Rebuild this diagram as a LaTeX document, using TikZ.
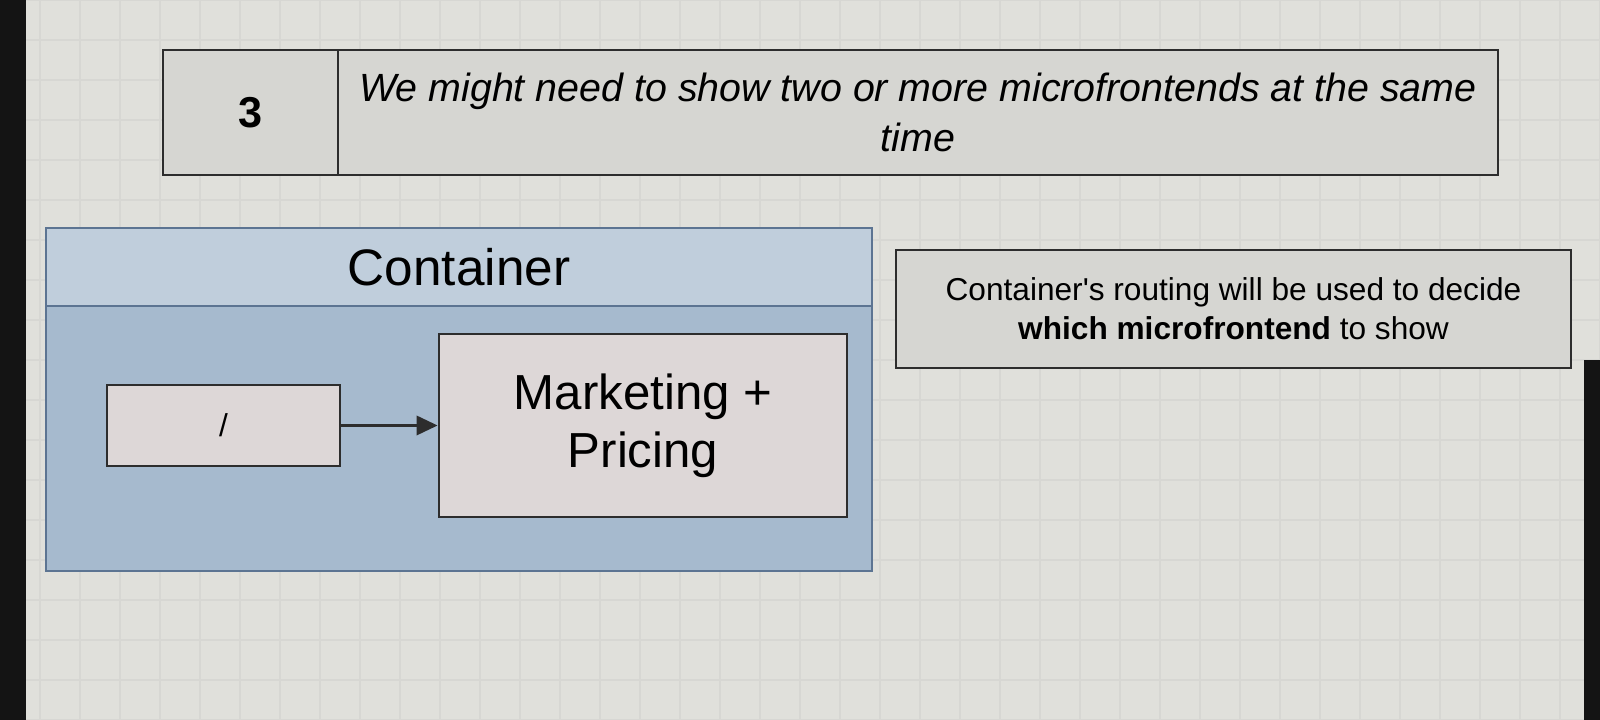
\documentclass[tikz,border=0pt]{standalone}
\usepackage{fontspec}
\setmainfont{Liberation Sans}
\usetikzlibrary{calc}
\usetikzlibrary{arrows.meta}

\definecolor{screenbg}{RGB}{224,224,219}
\definecolor{gridline}{RGB}{215,215,211}
\definecolor{bezel}{RGB}{20,20,20}
\definecolor{notefill}{RGB}{214,214,210}
\definecolor{boxfill}{RGB}{221,215,215}
\definecolor{contbody}{RGB}{166,186,206}
\definecolor{conthead}{RGB}{192,206,220}
\definecolor{contline}{RGB}{92,116,146}
\definecolor{inkline}{RGB}{45,45,45}

\begin{document}
\begin{tikzpicture}[
    line width=0.8pt,
    notebox/.style={draw=inkline, fill=notefill, inner sep=0pt, align=center},
    mfbox/.style={draw=inkline, fill=boxfill, inner sep=0pt, align=center},
    contbox/.style={draw=contline, fill=contbody, inner sep=0pt},
    conttitle/.style={draw=contline, fill=conthead, inner sep=0pt,
        font=\fontsize{14.6}{17}\selectfont},
    route/.style={draw=inkline, -{Triangle[length=6pt, width=5.5pt]}}
]

    % Screen
    \useasboundingbox (0,0) rectangle (16,7.2);
    \fill [screenbg] (0,0) rectangle (16,7.2);
    \draw [gridline, line width=0.3pt, step=0.4] (0,0) grid (16,7.2);
    \fill [bezel] (0,0) rectangle (0.26,7.2);
    \fill [bezel] (15.84,0) rectangle (16,3.6);

    % Constants
    \pgfmathsetmacro{\rowy}{2.945}

    % Step header
    \node [notebox, minimum width=1.75cm, minimum height=1.25cm,
        font=\fontsize{12.3}{14}\selectfont\bfseries] (stepnum) at (2.505,6.075) {3};
    \node [notebox, minimum width=11.6cm, minimum height=1.25cm,
        font=\fontsize{11.2}{14}\selectfont\itshape] (steptext) at (9.18,6.075)
        {We might need to show two or more microfrontends at the same\\time};

    % Container
    \node [contbox, minimum width=8.26cm, minimum height=3.43cm] (container) at (4.59,3.205) {};
    \node [conttitle, minimum width=8.26cm, minimum height=0.78cm] (containertitle)
        at (container.north) [anchor=north] {Container};

    % Routes and microfrontends
    \node [mfbox, minimum width=2.33cm, minimum height=0.81cm,
        font=\fontsize{9}{11}\selectfont] (rootpath) at (2.235,\rowy) {/};
    \node [mfbox, minimum width=4.08cm, minimum height=1.83cm,
        font=\fontsize{14}{16.5}\selectfont] (marketing) at (6.43,\rowy) {Marketing +\\Pricing};

    \draw [route] (rootpath) -- (marketing);

    % Routing note
    \node [notebox, minimum width=6.75cm, minimum height=1.18cm,
        font=\fontsize{9}{11}\selectfont] (routingnote) at (12.335,4.11)
        {Container\textquotesingle s routing will be used to decide\\\textbf{which microfrontend} to show};

\end{tikzpicture}
\end{document}
